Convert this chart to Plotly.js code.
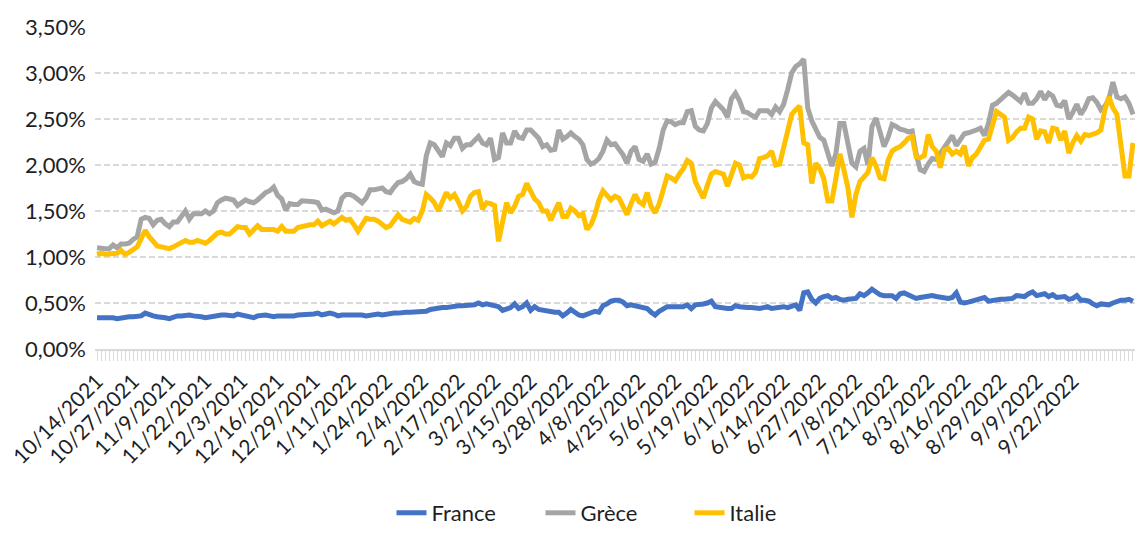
<!DOCTYPE html>
<html>
<head>
<meta charset="utf-8">
<script src="https://cdn.plot.ly/plotly-3.0.1.min.js"></script>
<style>
  html, body { margin: 0; padding: 0; background: #ffffff; }
  #chart { width: 1135px; height: 534px; }
</style>
</head>
<body>
<div id="chart"></div>
<script>
// ---- Data (yields, in %) ----
const startDate = '2021-10-14';
const marketHolidays = ['2022-04-15', '2022-04-18'];
const nPoints = 259;

const tickLabels = [
  '10/14/2021', '10/27/2021', '11/9/2021', '11/22/2021', '12/3/2021', '12/16/2021',
  '12/29/2021', '1/11/2022', '1/24/2022', '2/4/2022', '2/17/2022', '3/2/2022',
  '3/15/2022', '3/28/2022', '4/8/2022', '4/25/2022', '5/6/2022', '5/19/2022',
  '6/1/2022', '6/14/2022', '6/27/2022', '7/8/2022', '7/21/2022', '8/3/2022',
  '8/16/2022', '8/29/2022', '9/9/2022', '9/22/2022'
];

const france = [
  0.34, 0.34, 0.35, 0.34, 0.34, 0.33, 0.34, 0.35, 0.35, 0.35,
  0.36, 0.36, 0.39, 0.37, 0.36, 0.35, 0.35, 0.34, 0.33, 0.35,
  0.36, 0.36, 0.37, 0.37, 0.36, 0.36, 0.35, 0.34, 0.35, 0.36,
  0.36, 0.37, 0.37, 0.36, 0.36, 0.38, 0.37, 0.36, 0.35, 0.34,
  0.36, 0.37, 0.37, 0.36, 0.35, 0.36, 0.36, 0.36, 0.35, 0.36,
  0.37, 0.37, 0.37, 0.37, 0.38, 0.39, 0.37, 0.38, 0.39, 0.38,
  0.36, 0.37, 0.37, 0.38, 0.38, 0.37, 0.37, 0.36, 0.37, 0.38,
  0.38, 0.37, 0.38, 0.38, 0.39, 0.39, 0.40, 0.40, 0.40, 0.40,
  0.40, 0.40, 0.41, 0.43, 0.44, 0.44, 0.45, 0.45, 0.46, 0.47,
  0.47, 0.47, 0.47, 0.47, 0.48, 0.50, 0.48, 0.49, 0.48, 0.47,
  0.46, 0.42, 0.43, 0.45, 0.49, 0.44, 0.46, 0.50, 0.42, 0.46,
  0.43, 0.42, 0.41, 0.41, 0.40, 0.40, 0.36, 0.39, 0.43, 0.40,
  0.37, 0.36, 0.38, 0.40, 0.41, 0.40, 0.47, 0.49, 0.52, 0.53,
  0.53, 0.51, 0.47, 0.48, 0.47, 0.46, 0.46, 0.44, 0.40, 0.37,
  0.41, 0.44, 0.46, 0.46, 0.46, 0.45, 0.46, 0.48, 0.44, 0.48,
  0.48, 0.49, 0.50, 0.52, 0.46, 0.45, 0.44, 0.44, 0.44, 0.47,
  0.46, 0.45, 0.45, 0.45, 0.44, 0.44, 0.45, 0.46, 0.44, 0.45,
  0.46, 0.46, 0.45, 0.46, 0.48, 0.42, 0.61, 0.62, 0.54, 0.50,
  0.55, 0.57, 0.58, 0.55, 0.56, 0.54, 0.53, 0.54, 0.54, 0.55,
  0.60, 0.58, 0.61, 0.65, 0.62, 0.59, 0.58, 0.58, 0.58, 0.55,
  0.60, 0.61, 0.59, 0.57, 0.55, 0.56, 0.57, 0.58, 0.58, 0.57,
  0.56, 0.55, 0.55, 0.56, 0.61, 0.51, 0.50, 0.51, 0.52, 0.53,
  0.54, 0.56, 0.52, 0.53, 0.54, 0.54, 0.54, 0.54, 0.55, 0.58,
  0.57, 0.57, 0.60, 0.62, 0.58, 0.59, 0.60, 0.57, 0.59, 0.56,
  0.56, 0.57, 0.54, 0.55, 0.58, 0.53, 0.53, 0.52, 0.49, 0.47,
  0.49, 0.49, 0.48, 0.50, 0.52, 0.53, 0.53, 0.54, 0.52
];

const grece = [
  1.10, 1.09, 1.09, 1.09, 1.13, 1.10, 1.14, 1.14, 1.15, 1.19,
  1.22, 1.41, 1.43, 1.42, 1.35, 1.40, 1.41, 1.36, 1.33, 1.38,
  1.38, 1.44, 1.50, 1.41, 1.47, 1.47, 1.47, 1.50, 1.47, 1.50,
  1.59, 1.62, 1.64, 1.63, 1.62, 1.56, 1.59, 1.62, 1.60, 1.59,
  1.62, 1.67, 1.70, 1.72, 1.76, 1.67, 1.63, 1.51, 1.58, 1.57,
  1.57, 1.61, 1.61, 1.60, 1.60, 1.59, 1.51, 1.52, 1.50, 1.48,
  1.50, 1.64, 1.68, 1.68, 1.66, 1.62, 1.59, 1.64, 1.73, 1.73,
  1.74, 1.75, 1.71, 1.70, 1.76, 1.81, 1.82, 1.85, 1.90, 1.82,
  1.80, 1.79, 2.10, 2.24, 2.22, 2.15, 2.09, 2.24, 2.21, 2.29,
  2.29, 2.18, 2.22, 2.22, 2.26, 2.31, 2.24, 2.22, 2.29, 2.06,
  2.08, 2.35, 2.24, 2.24, 2.37, 2.30, 2.29, 2.38, 2.38, 2.33,
  2.29, 2.20, 2.22, 2.16, 2.17, 2.38, 2.28, 2.31, 2.35, 2.31,
  2.28, 2.22, 2.06, 2.01, 2.03, 2.07, 2.15, 2.27, 2.22, 2.23,
  2.18, 2.11, 2.02, 2.15, 2.20, 2.06, 2.04, 2.12, 2.01, 2.03,
  2.18, 2.38, 2.48, 2.47, 2.44, 2.46, 2.46, 2.58, 2.59, 2.42,
  2.38, 2.37, 2.45, 2.62, 2.69, 2.64, 2.60, 2.52, 2.72, 2.78,
  2.70, 2.58, 2.57, 2.54, 2.52, 2.59, 2.59, 2.59, 2.55, 2.63,
  2.58, 2.66, 2.82, 3.00, 3.07, 3.10, 3.15, 2.62, 2.48, 2.38,
  2.30, 2.27, 2.14, 1.99, 2.12, 2.45, 2.45, 2.22, 2.02, 1.98,
  2.15, 2.18, 2.00, 2.42, 2.51, 2.36, 2.20, 2.30, 2.44, 2.42,
  2.39, 2.38, 2.36, 2.37, 2.12, 1.95, 1.93, 2.01, 2.07, 2.06,
  2.12, 2.20, 2.26, 2.32, 2.21, 2.27, 2.34, 2.35, 2.36, 2.38,
  2.40, 2.32, 2.45, 2.65, 2.67, 2.71, 2.74, 2.79, 2.76, 2.73,
  2.69, 2.78, 2.67, 2.67, 2.72, 2.80, 2.71, 2.78, 2.75, 2.65,
  2.64, 2.70, 2.50, 2.57, 2.66, 2.55, 2.62, 2.72, 2.73, 2.68,
  2.60, 2.64, 2.72, 2.90, 2.74, 2.72, 2.74, 2.67, 2.55
];

const italie = [
  1.03, 1.04, 1.03, 1.03, 1.03, 1.04, 1.07, 1.03, 1.05, 1.08,
  1.11, 1.20, 1.29, 1.22, 1.16, 1.12, 1.11, 1.10, 1.09, 1.11,
  1.13, 1.15, 1.18, 1.16, 1.16, 1.18, 1.16, 1.15, 1.18, 1.22,
  1.26, 1.27, 1.25, 1.25, 1.29, 1.33, 1.32, 1.32, 1.25, 1.30,
  1.34, 1.30, 1.30, 1.30, 1.30, 1.28, 1.33, 1.28, 1.28, 1.28,
  1.32, 1.33, 1.35, 1.35, 1.35, 1.39, 1.34, 1.37, 1.39, 1.36,
  1.39, 1.43, 1.40, 1.41, 1.35, 1.28, 1.35, 1.42, 1.41, 1.41,
  1.39, 1.35, 1.32, 1.34, 1.39, 1.46, 1.41, 1.39, 1.38, 1.42,
  1.40, 1.50, 1.68, 1.64, 1.59, 1.50, 1.60, 1.70, 1.64, 1.68,
  1.60, 1.50, 1.55, 1.66, 1.70, 1.71, 1.52, 1.59, 1.58, 1.56,
  1.17, 1.37, 1.59, 1.48, 1.55, 1.66, 1.68, 1.80, 1.71, 1.63,
  1.59, 1.50, 1.50, 1.40, 1.50, 1.59, 1.44, 1.44, 1.53, 1.50,
  1.45, 1.47, 1.30, 1.35, 1.46, 1.62, 1.72, 1.66, 1.62, 1.66,
  1.64, 1.55, 1.46, 1.58, 1.68, 1.60, 1.57, 1.70, 1.55, 1.48,
  1.58, 1.73, 1.88, 1.86, 1.83, 1.90, 1.96, 2.05, 2.02, 1.82,
  1.72, 1.64, 1.78, 1.90, 1.93, 1.91, 1.90, 1.77, 1.90, 2.02,
  2.00, 1.86, 1.88, 1.87, 1.92, 2.07, 2.08, 2.10, 2.15, 2.00,
  2.01, 2.18, 2.36, 2.55, 2.60, 2.64, 2.24, 2.22, 1.80, 2.02,
  1.96, 1.85, 1.61, 1.61, 1.85, 2.12, 1.95, 1.75, 1.43, 1.68,
  1.82, 1.88, 1.92, 2.08, 1.99, 1.86, 1.85, 2.05, 2.15, 2.18,
  2.20, 2.24, 2.29, 2.31, 2.09, 2.08, 2.10, 2.33, 2.20, 2.15,
  1.97, 2.16, 2.18, 2.12, 2.15, 2.12, 2.21, 1.99, 2.08, 2.12,
  2.20, 2.27, 2.28, 2.45, 2.58, 2.55, 2.52, 2.27, 2.30, 2.36,
  2.40, 2.40, 2.52, 2.50, 2.28, 2.37, 2.36, 2.24, 2.40, 2.39,
  2.27, 2.37, 2.13, 2.24, 2.32, 2.26, 2.33, 2.32, 2.33, 2.35,
  2.38, 2.60, 2.74, 2.62, 2.55, 2.20, 1.88, 1.88, 2.24
];

// ---- Categories: trading days from the start date ----
function buildDates(start, count, holidays) {
  const out = [];
  const d = new Date(start + 'T00:00:00Z');
  while (out.length < count) {
    const dow = d.getUTCDay();
    const iso = d.toISOString().slice(0, 10);
    if (dow !== 0 && dow !== 6 && holidays.indexOf(iso) < 0) {
      out.push((d.getUTCMonth() + 1) + '/' + d.getUTCDate() + '/' + d.getUTCFullYear());
    }
    d.setUTCDate(d.getUTCDate() + 1);
  }
  return out;
}
const dates = buildDates(startDate, nPoints, marketHolidays);
const tickText = dates.map(d => (tickLabels.indexOf(d) >= 0 ? d : ''));

const FONT = 'Lato, "Noto Sans", sans-serif';
const TXT = '#1f1f1f';

function series(name, values, color) {
  return {
    type: 'scatter',
    mode: 'lines',
    name: name,
    x: dates.slice(0, values.length),
    y: values,
    line: { color: color, width: 5 },
    hoverinfo: 'x+y+name'
  };
}

const traces = [
  series('France', france, '#4472C4'),
  series('Grèce', grece, '#A5A5A5'),
  series('Italie', italie, '#FFC000')
];

const layout = {
  width: 1135,
  height: 534,
  autosize: false,
  paper_bgcolor: '#ffffff',
  plot_bgcolor: '#ffffff',
  separators: ', ',
  font: { family: FONT, size: 21, color: TXT },
  margin: { l: 95, r: 0, t: 27, b: 185, pad: 0 },
  showlegend: true,
  legend: {
    orientation: 'h',
    x: 0.5, xanchor: 'center',
    yref: 'container', y: 0, yanchor: 'bottom',
    font: { family: FONT, size: 22, color: TXT },
    entrywidth: 104,
    entrywidthmode: 'pixels',
    traceorder: 'normal'
  },
  xaxis: {
    type: 'category',
    range: [-0.5, nPoints - 0.5],
    tickmode: 'array',
    tickvals: dates,
    ticktext: tickText,
    ticks: 'outside',
    ticklen: 10,
    tickwidth: 1,
    tickcolor: '#d9d9d9',
    tickangle: -45,
    tickfont: { family: FONT, size: 21, color: TXT },
    showgrid: false,
    showline: true,
    linecolor: '#d9d9d9',
    linewidth: 1.5,
    zeroline: false,
    fixedrange: true
  },
  yaxis: {
    range: [0, 3.5],
    tickmode: 'linear',
    tick0: 0,
    dtick: 0.5,
    tickformat: '.2f',
    ticksuffix: '%',
    tickfont: { family: FONT, size: 22, color: TXT },
    ticks: '',
    ticklabelstandoff: 8,
    showgrid: true,
    gridcolor: '#d9d9d9',
    gridwidth: 1.5,
    griddash: '6px,3px',
    zeroline: false,
    showline: false,
    fixedrange: true
  }
};

Plotly.newPlot('chart', traces, layout, { displayModeBar: false });
</script>
</body>
</html>
